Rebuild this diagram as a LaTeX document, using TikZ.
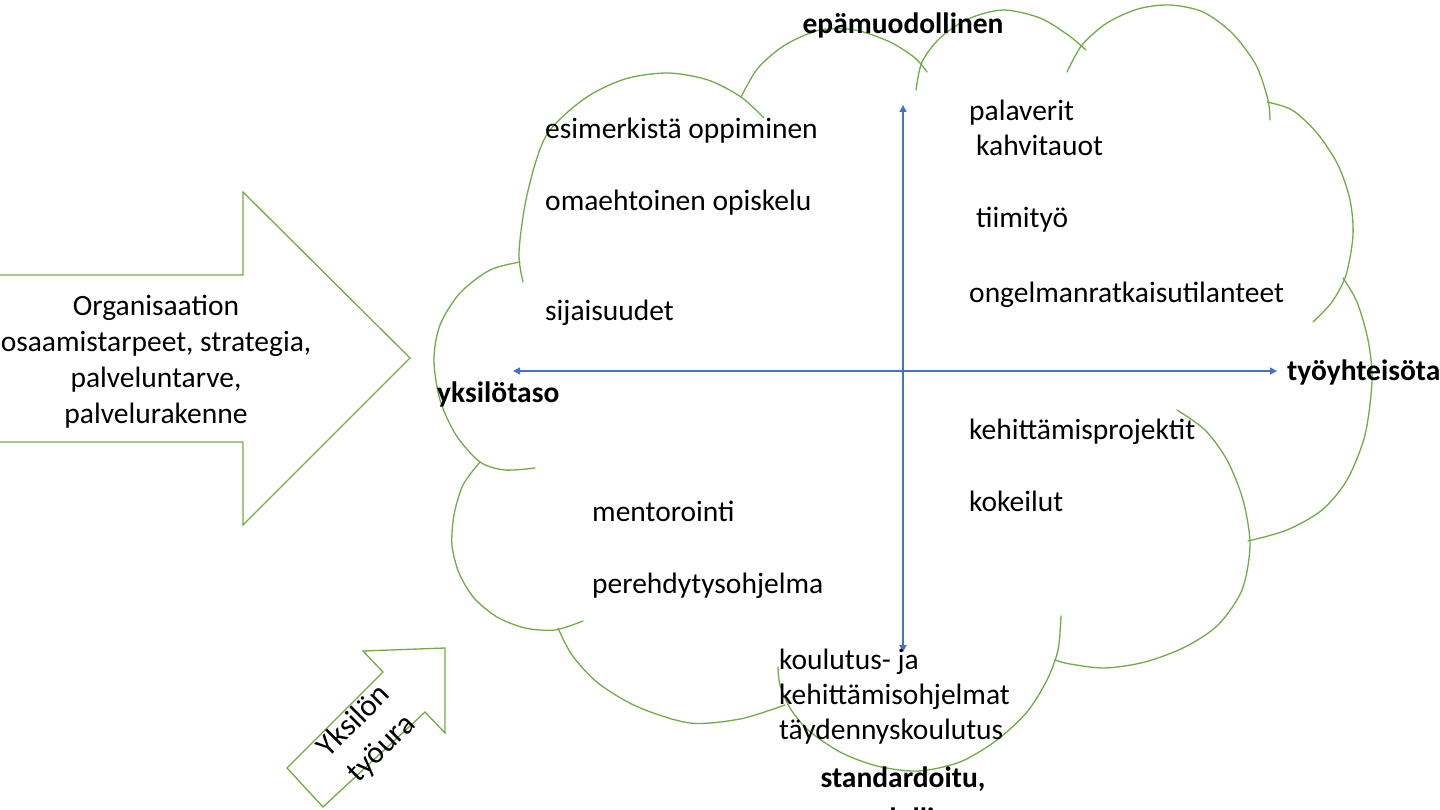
\documentclass[tikz,border=0pt]{standalone}
\usepackage{fontspec}
\setmainfont{Carlito}
\usetikzlibrary{arrows.meta}
\definecolor{cloudgreen}{RGB}{112,173,71}
\definecolor{axisblue}{RGB}{68,114,196}
\begin{document}
\begin{tikzpicture}[x=1pt,y=-1pt,
  lobe/.style={draw=cloudgreen,line width=1.3pt,line cap=round},
  shapeline/.style={draw=cloudgreen,line width=1.3pt,line join=miter},
  axis/.style={draw=axisblue,line width=1.4pt,{Triangle[width=7pt,length=7pt]}-{Triangle[width=7pt,length=7pt]}},
  txt/.style={font=\fontsize{29.5}{35.5}\selectfont,inner sep=0pt,anchor=base west},
  btxt/.style={font=\fontsize{29.5}{35.5}\selectfont\bfseries,inner sep=0pt,anchor=base},
  ctxt/.style={font=\fontsize{29.5}{36}\selectfont,inner sep=0pt,align=center}]
\useasboundingbox (0,0) rectangle (1440,810);
\fill[white] (0,0) rectangle (1440,810);

% cloud lobes
\draw[lobe] plot[smooth] coordinates {(523,282) (519,252) (527,195) (546,136) (584,99) (625,79) (668,73) (708,80) (741,97) (764,118)};
\draw[lobe] plot[smooth] coordinates {(741,97) (758,68) (785,45) (820,30) (855,30) (890,42) (915,58) (927,72)};
\draw[lobe] plot[smooth] coordinates {(916,90) (922,62) (940,38) (968,19) (1003,10) (1040,18) (1068,35) (1086,50)};
\draw[lobe] plot[smooth] coordinates {(1067,72) (1082,45) (1107,23) (1138,9) (1170,5) (1203,12) (1232,33) (1256,65) (1268,100) (1270,120)};
\draw[lobe] plot[smooth] coordinates {(1267,102) (1292,110) (1317,133) (1338,165) (1350,200) (1353,235) (1346,275) (1332,302) (1313,322)};
\draw[lobe] plot[smooth] coordinates {(1343,278) (1357,302) (1368,340) (1372,380) (1365,435) (1347,480) (1322,510) (1287,530) (1248,541)};
\draw[lobe] plot[smooth] coordinates {(1177,410) (1205,430) (1227,460) (1243,500) (1250,545) (1242,590) (1218,625) (1185,647) (1145,662) (1105,668) (1070,664) (1055,660)};
\draw[lobe] plot[smooth] coordinates {(1061,616) (1058,650) (1047,680) (1027,712) (997,740) (960,762) (918,771) (877,766) (840,752) (808,730) (790,708) (780,685) (778,667)};
\draw[lobe] plot[smooth] coordinates {(558,628) (572,655) (598,683) (638,707) (690,723) (740,719) (785,705)};
\draw[lobe] plot[smooth] coordinates {(480,462) (463,485) (454,515) (452,545) (459,573) (474,598) (497,617) (525,628) (555,630) (583,621)};
\draw[lobe] plot[smooth] coordinates {(520,262) (490,270) (460,293) (440,325) (434,360) (440,400) (456,435) (480,462) (505,470) (535,468)};

% axes
\coordinate (axL) at (513,371);
\coordinate (axR) at (1277,371);
\coordinate (axT) at (903,105);
\coordinate (axB) at (903,652);
\draw[axis] (axL) -- (axR);
\draw[axis] (axT) -- (axB);

% big left arrow
\draw[shapeline] (-10,275) -- (243,275) -- (243,192) -- (410,358) -- (243,525) -- (243,442) -- (-10,442);
\node[ctxt] (org) at (156,362) {Organisaation\\osaamistarpeet, strategia,\\palveluntarve,\\palvelurakenne};

% small career arrow
\draw[shapeline] (287,768) -- (383,672) -- (363,651) -- (445,648) -- (445,733) -- (425,712) -- (323,807) -- cycle;
\node[ctxt,rotate=45,font=\fontsize{31}{39}\selectfont] (ura) at (368,735) {Yksilön\\työura};

% axis labels
\node[btxt] (ei) at (903,-4) {ei-standardoitu,};
\node[btxt] (epa) at (903,34) {epämuodollinen};
\node[btxt] (std) at (903,787) {standardoitu,};
\node[btxt] (muod) at (903,828) {muodollinen};
\node[txt,font=\fontsize{29.5}{35.5}\selectfont\bfseries] (yks) at (437,402) {yksilötaso};
\node[txt,font=\fontsize{29.5}{35.5}\selectfont\bfseries] (tyo) at (1287,380) {työyhteisötaso};

% quadrant texts
\node[txt] (t1) at (545,139) {esimerkistä oppiminen};
\node[txt] (t2) at (545,211) {omaehtoinen opiskelu};
\node[txt] (t3) at (545,320) {sijaisuudet};
\node[txt] (t4) at (969,121) {palaverit};
\node[txt] (t5) at (976,156) {kahvitauot};
\node[txt] (t6) at (976,228) {tiimityö};
\node[txt] (t7) at (969,302) {ongelmanratkaisutilanteet};
\node[txt] (t8) at (969,439) {kehittämisprojektit};
\node[txt] (t9) at (969,511) {kokeilut};
\node[txt] (t10) at (592,521) {mentorointi};
\node[txt] (t11) at (592,593) {perehdytysohjelma};
\node[txt] (t12) at (779,669) {koulutus- ja};
\node[txt] (t13) at (779,704) {kehittämisohjelmat};
\node[txt] (t14) at (779,739) {täydennyskoulutus};
\end{tikzpicture}
\end{document}
